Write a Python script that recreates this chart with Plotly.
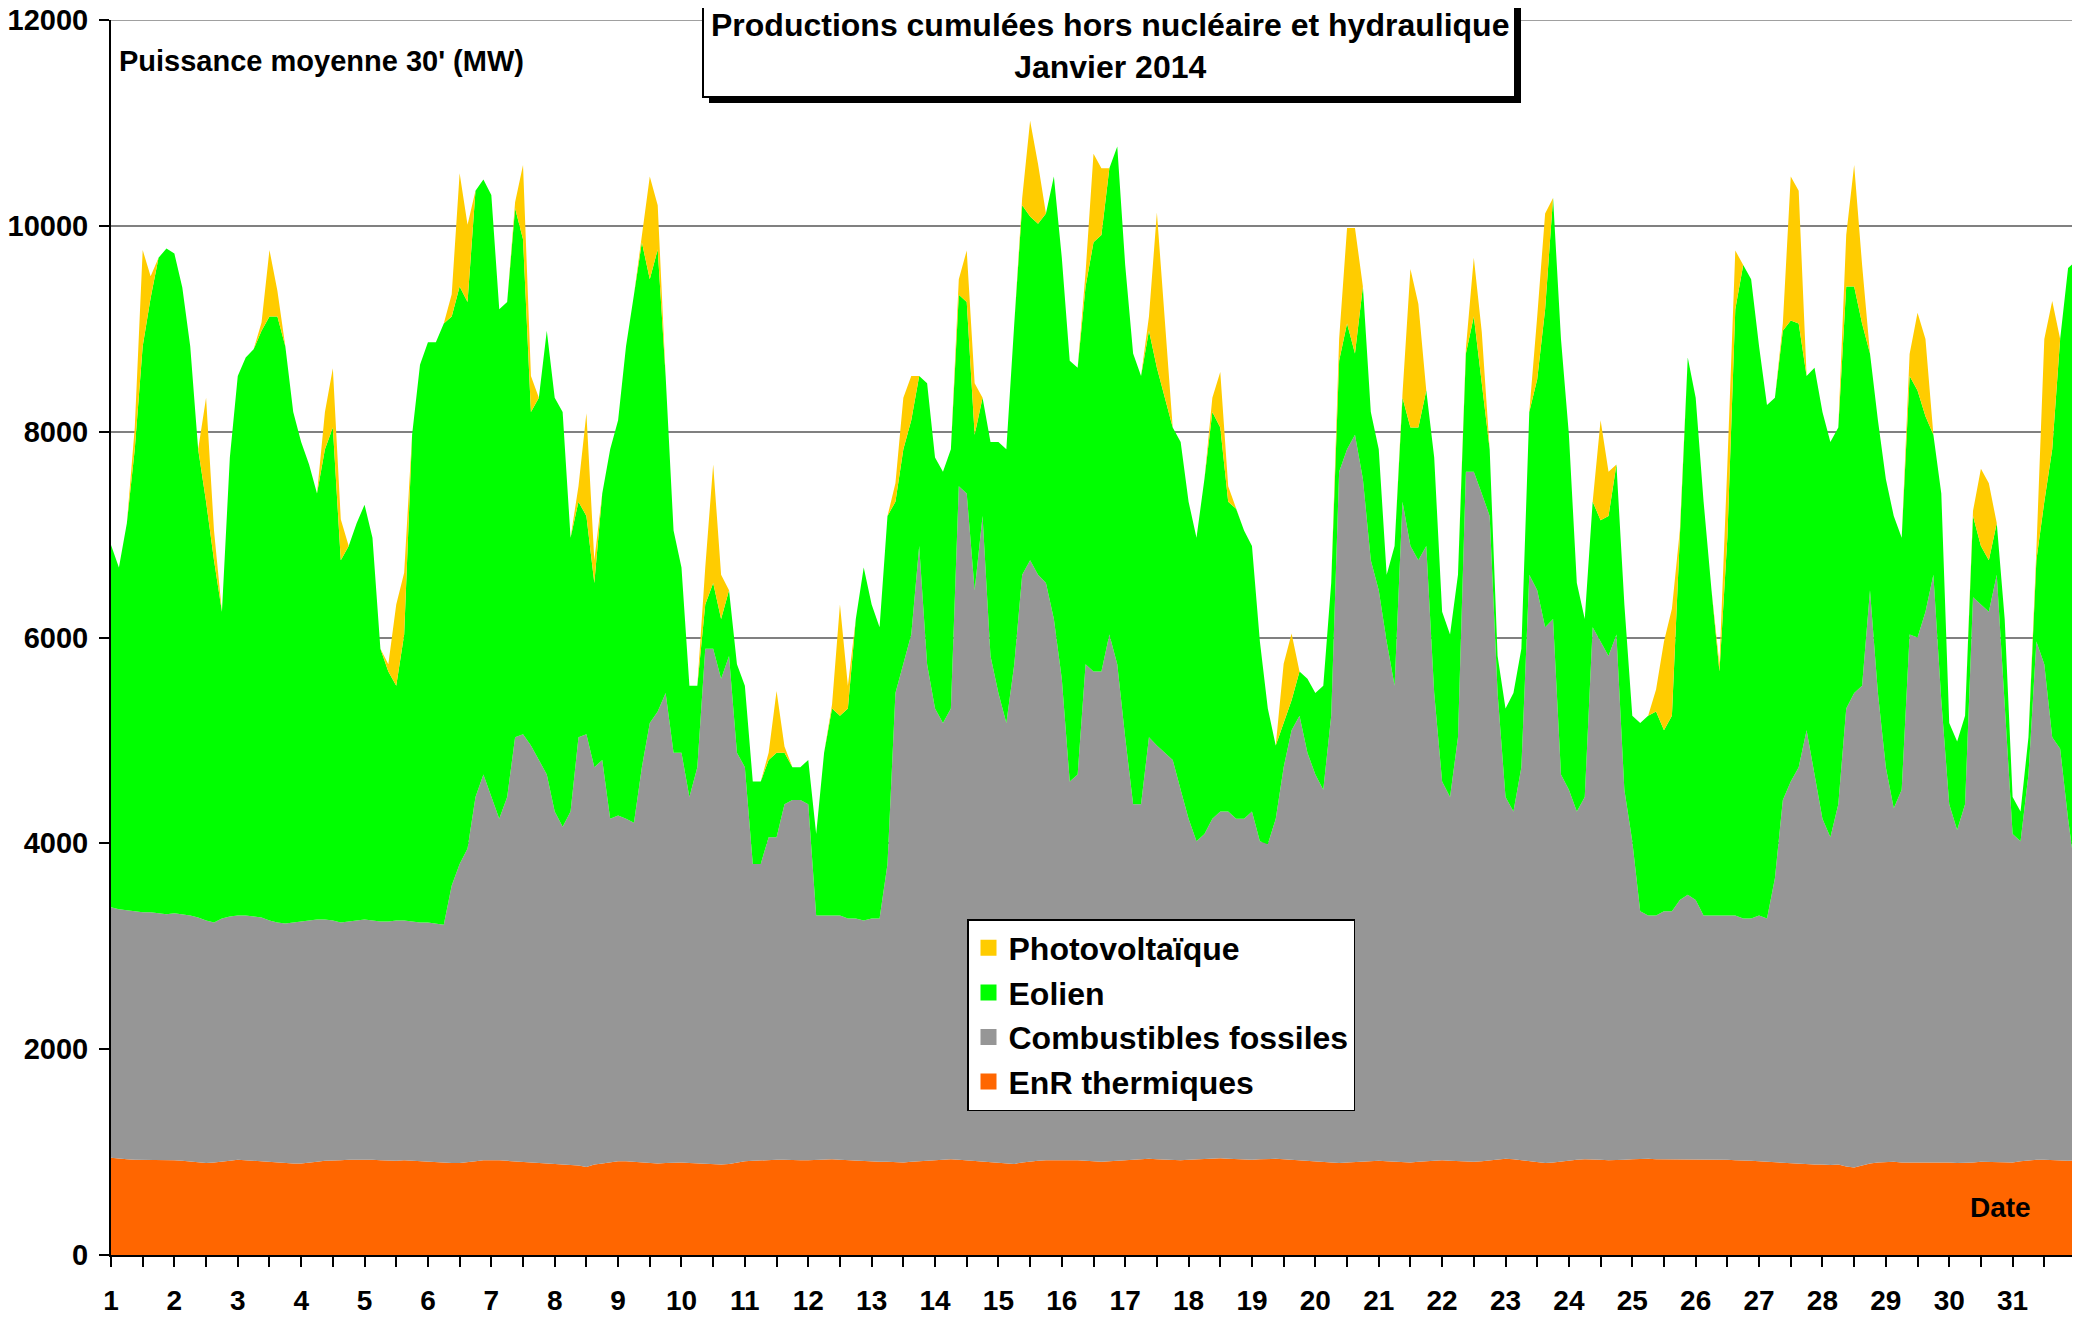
import plotly.graph_objects as go

# Sampling: 8 readings per day (every 3 h) from 1 Jan 00:00 to 31 Jan 24:00
days = list(range(1, 32))
samples_per_day = 8

# EnR thermiques (MW)
thermal = [
    945, 935, 930, 925, 925, 920, 920, 920,
    920, 915, 910, 900, 895, 900, 905, 915,
    925, 920, 915, 905, 900, 900, 895, 890,
    890, 895, 905, 915, 915, 920, 925, 925,
    928, 925, 920, 915, 915, 920, 915, 910,
    910, 905, 900, 895, 895, 900, 910, 920,
    922, 920, 915, 910, 905, 900, 895, 890,
    890, 885, 880, 870, 855, 880, 890, 900,
    910, 910, 905, 895, 890, 890, 895, 900,
    900, 895, 890, 885, 880, 880, 885, 900,
    910, 915, 920, 920, 925, 925, 920, 920,
    920, 925, 930, 930, 925, 920, 915, 910,
    910, 905, 905, 900, 900, 905, 910, 915,
    920, 925, 930, 925, 920, 915, 910, 905,
    900, 890, 885, 900, 910, 915, 920, 920,
    920, 925, 920, 915, 910, 905, 910, 915,
    920, 925, 930, 935, 930, 925, 920, 920,
    925, 930, 935, 935, 940, 935, 930, 925,
    925, 930, 935, 935, 930, 925, 920, 915,
    910, 905, 900, 895, 900, 905, 910, 915,
    915, 910, 905, 900, 900, 905, 910, 915,
    920, 915, 910, 905, 905, 910, 920, 930,
    935, 930, 920, 910, 900, 895, 900, 910,
    920, 925, 930, 930, 925, 920, 920, 925,
    930, 935, 935, 930, 930, 930, 930, 925,
    925, 925, 930, 930, 925, 920, 920, 915,
    910, 905, 900, 900, 895, 890, 885, 880,
    880, 875, 880, 860, 850, 870, 890, 900,
    905, 905, 900, 900, 905, 905, 900, 900,
    900, 895, 895, 900, 905, 905, 900, 900,
    900, 910, 920, 925, 925, 920, 915, 915,
    920,
]

# Combustibles fossiles (MW)
fossil = [
    2435, 2425, 2420, 2415, 2405, 2410, 2400, 2390,
    2400, 2395, 2390, 2380, 2355, 2330, 2365, 2375,
    2375, 2380, 2375, 2375, 2350, 2330, 2325, 2340,
    2350, 2355, 2355, 2345, 2335, 2310, 2315, 2325,
    2332, 2325, 2320, 2325, 2335, 2330, 2325, 2320,
    2320, 2315, 2310, 2695, 2905, 3050, 3540, 3750,
    3528, 3320, 3535, 4120, 4155, 4050, 3915, 3780,
    3420, 3275, 3430, 4160, 4205, 3860, 3920, 3340,
    3360, 3330, 3295, 3845, 4280, 4390, 4565, 3980,
    3980, 3555, 3850, 5005, 5010, 4720, 4935, 3980,
    3830, 2885, 2880, 3140, 3135, 3455, 3500, 3500,
    3460, 2375, 2370, 2370, 2375, 2350, 2355, 2340,
    2360, 2365, 2895, 4560, 4840, 5125, 5980, 4825,
    4390, 4245, 4380, 6545, 6480, 5545, 6270, 4915,
    4560, 4280, 4855, 5710, 5840, 5695, 5610, 5260,
    4680, 3675, 3750, 4825, 4760, 4765, 5120, 4825,
    4110, 3455, 3450, 4095, 4020, 3955, 3890, 3600,
    3315, 3090, 3155, 3305, 3370, 3375, 3310, 3315,
    3385, 3090, 3055, 3305, 3810, 4175, 4320, 3965,
    3760, 3615, 4340, 6715, 6930, 7065, 6630, 5835,
    5545, 5050, 4625, 6420, 5990, 5845, 5980, 4545,
    3680, 3535, 4120, 6705, 6705, 6490, 6260, 4530,
    3515, 3380, 3820, 5700, 5560, 5205, 5280, 3760,
    3600, 3385, 3520, 5170, 5035, 4900, 5110, 3595,
    3090, 2405, 2365, 2370, 2410, 2410, 2520, 2575,
    2525, 2375, 2370, 2370, 2375, 2380, 2350, 2355,
    2390, 2365, 2760, 3520, 3705, 3850, 4215, 3790,
    3360, 3185, 3500, 4450, 4610, 4660, 5570, 4560,
    3835, 3435, 3620, 5130, 5095, 5345, 5710, 4490,
    3480, 3235, 3485, 5490, 5415, 5345, 5710, 4410,
    3190, 3110, 3750, 5035, 4815, 4110, 4005, 3325,
    2740,
]

# Eolien (MW)
wind = [
    3520, 3320, 3760, 4490, 5500, 5970, 6370, 6470,
    6410, 6090, 5530, 4550, 4070, 3520, 2980, 4460,
    5240, 5420, 5510, 5700, 5870, 5890, 5610, 4960,
    4660, 4430, 4140, 4570, 4790, 3520, 3650, 3860,
    4030, 3720, 2650, 2430, 2280, 2780, 4730, 5420,
    5640, 5650, 5840, 5530, 5610, 5310, 5890, 5780,
    5850, 4950, 4810, 5140, 4810, 3240, 3520, 4310,
    4020, 4030, 2660, 2290, 2120, 1790, 2590, 3590,
    3840, 4590, 5130, 5100, 4310, 4490, 3080, 2160,
    1800, 1080, 790, 430, 640, 580, 640, 860,
    790, 800, 800, 750, 820, 500, 320, 320,
    430, 790, 1580, 2010, 1940, 2040, 2910, 3430,
    3050, 2830, 3380, 1860, 2090, 2080, 1650, 2730,
    2440, 2440, 2520, 1860, 1860, 1510, 1150, 2080,
    2440, 2660, 3310, 3590, 3340, 3410, 3590, 4300,
    4090, 4090, 3950, 3670, 4170, 4240, 4530, 5030,
    4590, 4380, 4160, 3950, 3670, 3450, 3230, 3380,
    3080, 2950, 3450, 3950, 3730, 3010, 3010, 2800,
    2580, 1940, 1320, 710, 430, 290, 430, 720,
    790, 1010, 1290, 1080, 1220, 790, 1870, 1440,
    1370, 650, 1360, 1010, 1150, 1290, 1510, 2290,
    1650, 1580, 1580, 1150, 1510, 1070, 650, 360,
    860, 1150, 1150, 1580, 2050, 3090, 4090, 4230,
    3450, 2220, 1730, 1220, 1180, 1360, 1650, 1800,
    1220, 1830, 1940, 1980, 1760, 1900, 3590, 5220,
    4880, 4020, 3160, 2370, 3670, 5890, 6350, 6210,
    5530, 4990, 4670, 4560, 4480, 4310, 3440, 3950,
    3950, 3840, 3660, 4100, 3950, 3520, 2300, 2650,
    2800, 2840, 2450, 2510, 2400, 1900, 1360, 2010,
    790, 860, 860, 790, 570, 500, 500, 870,
    360, 290, 360, 790, 1580, 2800, 3980, 5350,
    6000,
]

# Photovoltaïque (MW)
pv = [
    0, 0, 0, 210, 935, 210, 0, 0,
    0, 0, 0, 0, 1010, 290, 0, 0,
    0, 0, 0, 80, 645, 250, 0, 0,
    0, 0, 0, 360, 575, 400, 0, 0,
    0, 0, 0, 70, 790, 600, 0, 0,
    0, 0, 0, 215, 1100, 750, 0, 0,
    0, 0, 0, 60, 720, 350, 0, 0,
    0, 0, 0, 150, 1000, 220, 0, 0,
    0, 0, 0, 40, 1000, 430, 0, 0,
    0, 0, 0, 360, 1150, 430, 0, 0,
    0, 0, 0, 70, 600, 60, 0, 0,
    0, 0, 0, 40, 1080, 220, 0, 0,
    0, 0, 0, 180, 500, 430, 0, 0,
    0, 0, 0, 150, 500, 500, 0, 0,
    0, 0, 0, 70, 930, 580, 0, 0,
    0, 0, 0, 140, 860, 650, 0, 0,
    0, 0, 0, 140, 1510, 790, 0, 0,
    0, 0, 0, 140, 540, 150, 0, 0,
    0, 0, 0, 0, 575, 650, 0, 0,
    0, 0, 0, 210, 930, 1220, 0, 0,
    0, 0, 0, 40, 1540, 1200, 0, 0,
    0, 0, 0, 50, 570, 500, 0, 0,
    0, 0, 0, 0, 610, 930, 0, 0,
    0, 0, 0, 0, 970, 430, 0, 0,
    0, 0, 0, 215, 860, 1040, 0, 0,
    0, 0, 0, 70, 710, 570, 0, 0,
    0, 0, 0, 70, 1400, 1290, 0, 0,
    0, 0, 0, 500, 1180, 575, 0, 0,
    0, 0, 0, 215, 755, 750, 0, 0,
    0, 0, 0, 50, 750, 750, 0, 0,
    0, 0, 0, 100, 1580, 1440, 0, 0,
    0,
]

series_names = ["EnR thermiques", "Combustibles fossiles", "Eolien", "Photovoltaïque"]
series_colors = ["#FF6600", "#969696", "#00FF00", "#FFCC00"]
y_ticks = [0, 2000, 4000, 6000, 8000, 10000, 12000]
y_ticktext = ["0", "2000", "4000", "6000", "8000", "10000", "12000"]

x = [days[0] + i / samples_per_day for i in range(len(thermal))]

FONT = "Liberation Sans, Arial, sans-serif"

fig = go.Figure()
for name, vals, col in zip(series_names, [thermal, fossil, wind, pv], series_colors):
    fig.add_trace(go.Scatter(
        x=x, y=vals, name=name, stackgroup="one", mode="lines",
        line=dict(width=0, color=col), fillcolor=col, showlegend=False,
        hoverinfo="x+y+name",
    ))

# legend entries (square swatches), top to bottom
for name, col in reversed(list(zip(series_names, series_colors))):
    fig.add_trace(go.Scatter(
        x=[None], y=[None], name=name, mode="markers", legendgroup=name,
        marker=dict(symbol="square", size=16, color=col, line=dict(width=0)),
        showlegend=True,
    ))

tickvals = []
ticktext = []
for d in days:
    tickvals += [d, d + 0.5]
    ticktext += [str(d), ""]

# the page body adds an 8 px offset; figure coordinates are set to compensate
OFF = 8
W, H = 2080 - OFF, 1318 - OFF
L, R, T, B = 111 - OFF, 4, 20 - OFF, 63
pw = W - L - R
ph = H - T - B

def px(xf):
    return (xf - OFF - L) / pw

def py(yf):
    return (H - B - (yf - OFF)) / ph

fig.update_layout(
    width=W, height=H,
    margin=dict(l=L, r=R, t=T, b=B, autoexpand=False),
    paper_bgcolor="white", plot_bgcolor="white",
    font=dict(family=FONT, size=28, color="black", weight="bold"),
    xaxis=dict(
        range=[1, 32], tickmode="array", tickvals=tickvals, ticktext=ticktext,
        ticks="outside", ticklen=10, tickwidth=2, tickcolor="black",
        showline=True, linecolor="black", linewidth=2, showgrid=False,
        zeroline=False, tickfont=dict(size=28, family=FONT, weight="bold"),
        ticklabelstandoff=9, automargin=False, ticklabeloverflow="allow",
    ),
    yaxis=dict(
        range=[0, 12000], tickmode="array", tickvals=y_ticks, ticktext=y_ticktext,
        ticks="outside", ticklen=10, tickwidth=2, tickcolor="black",
        showline=True, linecolor="black", linewidth=2,
        showgrid=True, gridcolor="#808080", gridwidth=1.5, zeroline=False,
        tickfont=dict(size=29, family=FONT, weight="bold"),
        ticklabelstandoff=5, automargin=False, ticklabeloverflow="allow",
    ),
    legend=dict(
        x=px(967), y=py(919), xanchor="left", yanchor="top",
        bgcolor="white", bordercolor="black", borderwidth=1.5,
        font=dict(size=32, family=FONT, weight="bold", color="black"),
        traceorder="normal", tracegroupgap=10, itemsizing="trace",
    ),
    showlegend=True,
)

# top gridline at the end of the value axis
fig.add_shape(type="line", xref="paper", yref="y", x0=0, x1=1,
              y0=y_ticks[-1], y1=y_ticks[-1],
              line=dict(color="#808080", width=1.5), layer="below")

# title box with drop shadow
fig.add_shape(type="rect", xref="paper", yref="paper",
              x0=px(709), x1=px(1521), y0=py(103), y1=py(-10),
              fillcolor="black", line=dict(width=0), layer="above")
fig.add_shape(type="rect", xref="paper", yref="paper",
              x0=px(703), x1=px(1515), y0=py(97), y1=py(-10),
              fillcolor="white", line=dict(width=2, color="black"), layer="above")
fig.add_annotation(xref="paper", yref="paper", x=px(1110), y=py(46),
                   text="Productions cumulées hors nucléaire et hydraulique<br>Janvier 2014",
                   showarrow=False, xanchor="center", yanchor="middle",
                   font=dict(size=32, family=FONT, weight="bold", color="black"))
fig.add_annotation(xref="paper", yref="paper", x=px(117), y=py(61),
                   text="Puissance moyenne 30' (MW)", showarrow=False,
                   xanchor="left", yanchor="middle",
                   font=dict(size=29, family=FONT, weight="bold", color="black"))
fig.add_annotation(xref="paper", yref="paper", x=px(2000), y=py(1207),
                   text="Date", showarrow=False, xanchor="center", yanchor="middle",
                   font=dict(size=28, family=FONT, weight="bold", color="black"))

fig.write_html("out.html")
